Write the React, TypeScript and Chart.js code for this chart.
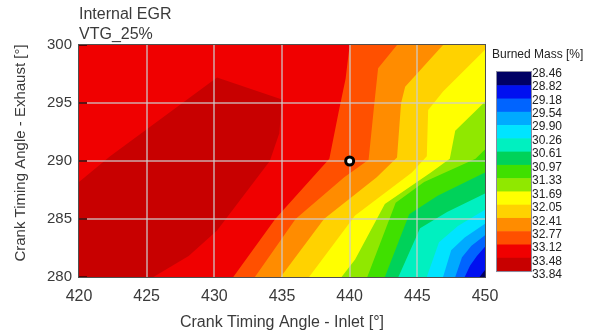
import React, { useEffect, useRef } from "react";
import { Chart, registerables } from "chart.js";

Chart.register(...registerables);

// ---------------- data ----------------
const titleLines = ["Internal EGR", "VTG_25%"];
const xAxisTitle = "Crank Timing Angle - Inlet [°]";
const yAxisTitle = "Crank Timing Angle - Exhaust [°]";
const colorbarTitle = "Burned Mass [%]";

const xLimits = [420, 450];
const yLimits = [280, 300];
const xTickValues = [420, 425, 430, 435, 440, 445, 450];
const yTickValues = [280, 285, 290, 295, 300];

const levelLabels = [
  "28.46", "28.82", "29.18", "29.54", "29.90", "30.26", "30.61", "30.97",
  "31.33", "31.69", "32.05", "32.41", "32.77", "33.12", "33.48", "33.84",
];

const bandColors = [
  "#000064", "#0010f0", "#0064ff", "#00aaff", "#00e4ff", "#00f0c0", "#00d25a",
  "#40e000", "#90e800", "#ffff00", "#ffd200", "#ff8c00", "#ff5000", "#f00000", "#c80000",
];

// iso-lines [inlet, exhaust]: boundary of the region where Burned Mass >= level
const iso2882 = [[450, 280.6], [449.6, 280]];
const iso2918 = [[450, 282.6], [449.4, 281.8], [448.9, 281.0], [448.5, 280]];
const iso2954 = [[450, 283.6], [449.0, 282.7], [448.3, 281.7], [447.8, 280]];
const iso2990 = [[450, 284.6], [448.5, 283.4], [447.5, 282.3], [446.9, 280]];
const iso3026 = [[450, 285.8], [448.0, 284.4], [446.6, 283.0], [445.7, 280]];
const iso3061 = [[450, 287.2], [447.2, 285.6], [445.2, 284.2], [443.6, 280]];
const iso3097 = [[450, 289.0], [446.5, 287.0], [444.4, 285.4], [442.6, 280]];
const iso3133 = [[450, 291.0], [449.3, 290.2], [445.5, 288.2], [443.4, 286.4], [441.3, 280]];
const iso3169 = [[450, 295.1], [447.8, 292.6], [447.4, 290.2], [446.0, 289.0], [442.6, 286.3], [440.4, 281.5], [439.4, 280]];
const iso3205 = [[450, 299.6], [446.9, 296.0], [445.8, 294.4], [445.7, 290.4], [444.6, 289.0], [440.4, 285.3], [437.0, 280]];
const iso3241 = [[446.9, 300], [444.1, 296.4], [443.8, 295.0], [443.5, 290.3], [442.0, 288.6], [438.1, 285.0], [434.9, 280]];
const iso3277 = [[443.5, 300], [442.1, 298.0], [441.8, 294.7], [441.4, 290.1], [439.6, 288.6], [436.0, 285.0], [433.0, 280]];
const iso3312 = [[440.0, 300], [439.7, 297.1], [439.2, 294.3], [438.5, 290.2], [434.5, 285.0], [431.4, 280]];
const iso3348 = [[420, 288.2], [422.3, 290.4], [430.2, 297.2], [435.0, 295.3], [434.8, 292.4], [434.1, 290.0], [430.2, 284.0], [428.1, 281.8], [425.5, 280]];

const isoLines = [
  iso2882, iso2918, iso2954, iso2990, iso3026, iso3061, iso3097,
  iso3133, iso3169, iso3205, iso3241, iso3277, iso3312, iso3348,
];

const operatingPoint = [{ x: 440, y: 290 }];

// ---------------- helpers ----------------
const FONT = "'Liberation Sans', Arial, sans-serif";
const TEXT = "#3a3a3a";
const GRID = "rgba(205,205,205,0.62)";
const [xMin, xMax] = xLimits;
const [yMin, yMax] = yLimits;

// close an iso-line into the region on its high-value (upper-left) side
function regionAbove(line: number[][]) {
  const pts = line.map(([x, y]) => ({ x, y }));
  const first = line[0];
  pts.push({ x: xMin, y: yMin });
  if (first[0] !== xMin) pts.push({ x: xMin, y: yMax });
  if (first[0] === xMax) pts.push({ x: xMax, y: yMax });
  return pts;
}

function fillDataset(data: { x: number; y: number }[], color: string) {
  return {
    data,
    backgroundColor: color,
    borderColor: "transparent",
    borderWidth: 0,
    pointRadius: 0,
    pointHoverRadius: 0,
    fill: "shape",
    tension: 0,
    showLine: true,
  };
}

const decorPlugin = {
  id: "decor",
  // grid lines go over the filled contours but under the operating point (dataset 0)
  beforeDatasetDraw(chart: any, args: any) {
    if (args.index !== 0) return;
    const { ctx, chartArea: a, scales } = chart;
    ctx.save();
    ctx.strokeStyle = GRID;
    ctx.lineWidth = 2;
    xTickValues.slice(1, -1).forEach((v) => {
      const px = Math.round(scales.x.getPixelForValue(v));
      ctx.beginPath();
      ctx.moveTo(px, a.top);
      ctx.lineTo(px, a.bottom);
      ctx.stroke();
    });
    yTickValues.slice(1, -1).forEach((v) => {
      const py = Math.round(scales.y.getPixelForValue(v));
      ctx.beginPath();
      ctx.moveTo(a.left, py);
      ctx.lineTo(a.right, py);
      ctx.stroke();
    });
    // small inner ticks on the left edge
    ctx.strokeStyle = "rgba(70,0,0,0.85)";
    yTickValues.forEach((v) => {
      const py = Math.round(scales.y.getPixelForValue(v));
      ctx.beginPath();
      ctx.moveTo(a.left, py);
      ctx.lineTo(a.left + 8, py);
      ctx.stroke();
    });
    ctx.restore();
  },
  afterDraw(chart: any) {
    const { ctx, chartArea: a } = chart;
    ctx.save();

    // plot frame
    ctx.strokeStyle = "#505050";
    ctx.lineWidth = 1;
    ctx.strokeRect(a.left - 0.5, a.top - 0.5, a.right - a.left + 1, a.bottom - a.top + 1);

    // title
    ctx.fillStyle = TEXT;
    ctx.font = `16px ${FONT}`;
    ctx.textAlign = "left";
    ctx.textBaseline = "middle";
    titleLines.forEach((t, i) => ctx.fillText(t, a.left, 15 + i * 19.5));

    // y axis title
    ctx.save();
    ctx.translate(21, (a.top + a.bottom) / 2 - 8);
    ctx.rotate(-Math.PI / 2);
    ctx.font = `15px ${FONT}`;
    ctx.textAlign = "center";
    ctx.textBaseline = "middle";
    ctx.fillText(yAxisTitle, 0, 0);
    ctx.restore();

    // colour bar
    const barLeft = a.right + 12;
    const barWidth = 34;
    const barTop = 72;
    const bandH = 13.27;
    bandColors.forEach((c, i) => {
      ctx.fillStyle = c;
      ctx.fillRect(barLeft, barTop + i * bandH, barWidth, bandH + 0.6);
    });
    ctx.strokeStyle = "#8a8aa0";
    ctx.lineWidth = 1;
    ctx.strokeRect(barLeft - 0.5, barTop - 0.5, barWidth + 1, bandH * bandColors.length + 1);

    ctx.fillStyle = "#222";
    ctx.font = `12px ${FONT}`;
    ctx.textAlign = "left";
    ctx.textBaseline = "middle";
    levelLabels.forEach((t, i) => ctx.fillText(t, barLeft + barWidth + 1, 73.3 + i * 13.45));
    ctx.fillText(colorbarTitle, a.right + 7, 55);

    ctx.restore();
  },
};

export default function App() {
  const canvasRef = useRef<HTMLCanvasElement | null>(null);

  useEffect(() => {
    const canvas = canvasRef.current;
    if (!canvas) return;

    const levelDatasets = isoLines.map((line, i) => fillDataset(regionAbove(line), bandColors[i + 1]));
    const background = fillDataset(
      [
        { x: xMin, y: yMin },
        { x: xMax, y: yMin },
        { x: xMax, y: yMax },
        { x: xMin, y: yMax },
      ],
      bandColors[0]
    );
    const marker = {
      data: operatingPoint,
      showLine: false,
      fill: false,
      pointRadius: 4,
      pointBorderWidth: 3,
      pointBackgroundColor: "#ffffff",
      pointBorderColor: "#000000",
      borderColor: "#000000",
    };

    const chart = new Chart(canvas, {
      type: "line",
      data: { datasets: [marker, ...levelDatasets.slice().reverse(), background] as any },
      options: {
        animation: false,
        responsive: true,
        maintainAspectRatio: false,
        devicePixelRatio: 1,
        indexAxis: "y",
        events: [],
        layout: { padding: { left: 0, top: 45, right: 112, bottom: 0 } },
        plugins: {
          legend: { display: false },
          tooltip: { enabled: false },
          title: { display: false },
        },
        scales: {
          x: {
            type: "linear",
            position: "bottom",
            min: xMin,
            max: xMax,
            ticks: { stepSize: 5, color: TEXT, font: { family: FONT, size: 16 }, padding: 10 },
            grid: { display: false, drawTicks: false },
            border: { display: false },
            title: {
              display: true,
              text: xAxisTitle,
              color: TEXT,
              font: { family: FONT, size: 16 },
              padding: { top: 0, bottom: 3 },
            },
            afterFit: (s: any) => {
              s.height = 58;
            },
          },
          y: {
            type: "linear",
            position: "left",
            min: yMin,
            max: yMax,
            ticks: { stepSize: 5, color: TEXT, font: { family: FONT, size: 15 }, padding: 7 },
            grid: { display: false, drawTicks: false },
            border: { display: false },
            title: { display: false },
            afterFit: (s: any) => {
              s.width = 79;
            },
          },
        },
      } as any,
      plugins: [decorPlugin],
    });

    return () => chart.destroy();
  }, []);

  return (
    <div style={{ position: "fixed", left: 0, top: 0, width: 597, height: 335, background: "#ffffff" }}>
      <canvas ref={canvasRef} />
    </div>
  );
}
